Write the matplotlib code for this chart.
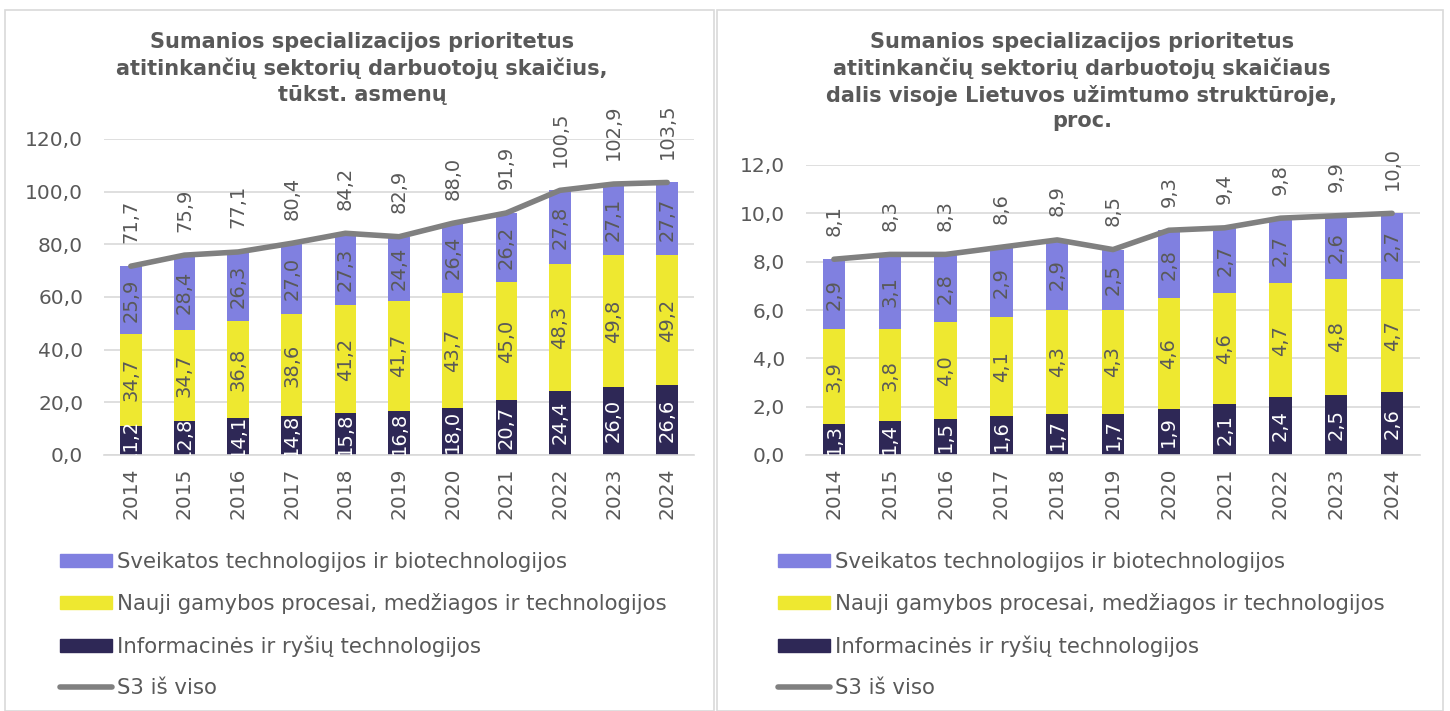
import matplotlib
matplotlib.use("Agg")
import matplotlib.pyplot as plt
from matplotlib.patches import Rectangle, Patch
from matplotlib.lines import Line2D
import numpy as np

years = ["2014", "2015", "2016", "2017", "2018", "2019", "2020", "2021", "2022", "2023", "2024"]

# Left: thousand persons
ict_k = [11.2, 12.8, 14.1, 14.8, 15.8, 16.8, 18.0, 20.7, 24.4, 26.0, 26.6]
mfg_k = [34.7, 34.7, 36.8, 38.6, 41.2, 41.7, 43.7, 45.0, 48.3, 49.8, 49.2]
health_k = [25.9, 28.4, 26.3, 27.0, 27.3, 24.4, 26.4, 26.2, 27.8, 27.1, 27.7]
total_k = [71.7, 75.9, 77.1, 80.4, 84.2, 82.9, 88.0, 91.9, 100.5, 102.9, 103.5]

# Right: percent
ict_p = [1.3, 1.4, 1.5, 1.6, 1.7, 1.7, 1.9, 2.1, 2.4, 2.5, 2.6]
mfg_p = [3.9, 3.8, 4.0, 4.1, 4.3, 4.3, 4.6, 4.6, 4.7, 4.8, 4.7]
health_p = [2.9, 3.1, 2.8, 2.9, 2.9, 2.5, 2.8, 2.7, 2.7, 2.6, 2.7]
total_p = [8.1, 8.3, 8.3, 8.6, 8.9, 8.5, 9.3, 9.4, 9.8, 9.9, 10.0]

left_title = "Sumanios specializacijos prioritetus\natitinkančių sektorių darbuotojų skaičius,\ntūkst. asmenų"
right_title = "Sumanios specializacijos prioritetus\natitinkančių sektorių darbuotojų skaičiaus\ndalis visoje Lietuvos užimtumo struktūroje,\nproc."
legend_labels = ["Sveikatos technologijos ir biotechnologijos",
                 "Nauji gamybos procesai, medžiagos ir technologijos",
                 "Informacinės ir ryšių technologijos",
                 "S3 iš viso"]

C_HEALTH = "#8080E0"
C_MFG = "#EEE830"
C_ICT = "#2E2856"
C_LINE = "#808080"
C_TEXT = "#595959"
C_GRID = "#D9D9D9"

plt.rcParams['font.family'] = ['DejaVu Sans']

W, H = 1450, 711
fig = plt.figure(figsize=(W/100, H/100), dpi=100)

def px_axes(x0, y0, x1, y1):
    # pixel coords from top-left
    return fig.add_axes([x0/W, 1 - y1/H, (x1-x0)/W, (y1-y0)/H])

# panel borders
for (bx0, bx1) in [(5, 714), (717, 1443)]:
    fig.patches.append(Rectangle((bx0/W, 0), (bx1-bx0)/W, (H-10)/H,
                                 transform=fig.transFigure, fill=False,
                                 edgecolor="#D9D9D9", linewidth=1.2))

def draw(ax, ict, mfg, health, total, ymax, step, title, title_x, title_y, fs_lab):
    x = np.arange(len(years))
    w = 0.4
    ict = np.array(ict); mfg = np.array(mfg); health = np.array(health)
    ax.bar(x, ict, w, color=C_ICT, zorder=2)
    ax.bar(x, mfg, w, bottom=ict, color=C_MFG, zorder=2)
    ax.bar(x, health, w, bottom=ict+mfg, color=C_HEALTH, zorder=2)
    ax.plot(x, total, color=C_LINE, linewidth=4, solid_capstyle='round', zorder=3)
    for i in range(len(x)):
        ax.text(x[i], ict[i]/2, f"{ict[i]:.1f}".replace(".", ","), rotation=90,
                ha='center', va='center', color='white', fontsize=fs_lab, zorder=4, clip_on=True)
        ax.text(x[i], ict[i] + mfg[i]/2, f"{mfg[i]:.1f}".replace(".", ","), rotation=90,
                ha='center', va='center', color=C_TEXT, fontsize=fs_lab, zorder=4)
        ax.text(x[i], ict[i] + mfg[i] + health[i]/2, f"{health[i]:.1f}".replace(".", ","), rotation=90,
                ha='center', va='center', color=C_TEXT, fontsize=fs_lab, zorder=4)
        ax.annotate(f"{total[i]:.1f}".replace(".", ","), (x[i], total[i]), xytext=(0, 17),
                    textcoords='offset points', rotation=90, ha='center', va='bottom',
                    color=C_TEXT, fontsize=fs_lab, zorder=4, annotation_clip=False)
    ax.set_xlim(-0.5, len(x) - 0.5)
    ax.set_ylim(0, ymax)
    ticks = np.arange(0, ymax + step/2, step)
    ax.set_yticks(ticks)
    ax.set_yticklabels([f"{t:.1f}".replace(".", ",") for t in ticks], color=C_TEXT, fontsize=14.5)
    ax.set_xticks(x)
    ax.set_xticklabels(years, rotation=90, color=C_TEXT, fontsize=14.5)
    ax.tick_params(length=0)
    ax.tick_params(axis='x', pad=9)
    ax.tick_params(axis='y', pad=15)
    ax.grid(axis='y', color=C_GRID, linewidth=1.2, zorder=0)
    ax.set_axisbelow(True)
    for s in ['top', 'right', 'left']:
        ax.spines[s].set_visible(False)
    ax.spines['bottom'].set_color(C_GRID)
    ax.spines['bottom'].set_linewidth(1.2)
    fig.text(title_x/W, 1 - title_y/H, title, ha='center', va='top', fontsize=15,
             fontweight='bold', color=C_TEXT, linespacing=1.33)

axL = px_axes(104, 139, 694, 455)
draw(axL, ict_k, mfg_k, health_k, total_k, 120, 20, left_title, 362, 32, 14)

axR = px_axes(806, 165, 1420, 455)
draw(axR, ict_p, mfg_p, health_p, total_p, 12, 2, right_title, 1082, 32, 14)

def legend(x0, y0):
    handles = [Patch(color=C_HEALTH), Patch(color=C_MFG), Patch(color=C_ICT),
               Line2D([0], [0], color=C_LINE, linewidth=4, solid_capstyle='round')]
    leg = fig.legend(handles, legend_labels, loc='upper left',
                     bbox_to_anchor=(x0/W, 1 - y0/H), frameon=False,
                     fontsize=15.3, labelcolor=C_TEXT, handlelength=2.45, handleheight=0.55,
                     handletextpad=0.25, labelspacing=1.0, borderaxespad=0, borderpad=0)
    return leg

legend(60, 552)
legend(778, 552)

fig.savefig("out.png", dpi=100)
